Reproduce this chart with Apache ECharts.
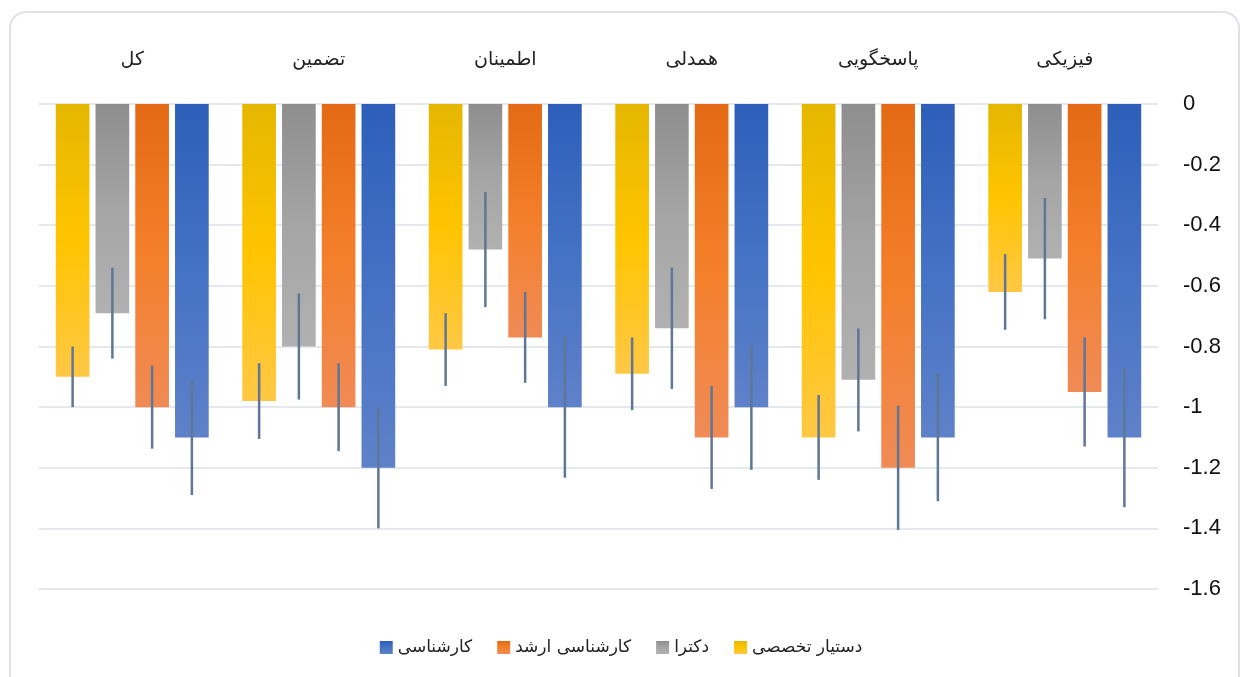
<!DOCTYPE html>
<html>
<head>
<meta charset="utf-8">
<script src="https://cdn.jsdelivr.net/npm/echarts@6/dist/echarts.min.js"></script>
<style>
	html, body { margin: 0; padding: 0; background: #ffffff; }
	#chart { width: 1242px; height: 677px; }
</style>
</head>
<body>
<div id="chart"></div>
<script>
// categories, read right to left like the original
var categories = ['فیزیکی', 'پاسخگویی', 'همدلی', 'اطمینان', 'تضمین', 'کل'];

// mean values per group
var dastyarValues = [-0.62, -1.1, -0.89, -0.81, -0.98, -0.9];
var doctoraValues = [-0.51, -0.91, -0.74, -0.48, -0.8, -0.69];
var arshadValues = [-0.95, -1.2, -1.1, -0.77, -1.0, -1.0];
var karshenasiValues = [-1.1, -1.1, -1.0, -1.0, -1.2, -1.1];

// error bar half lengths
var dastyarErrors = [0.125, 0.14, 0.12, 0.12, 0.125, 0.1];
var doctoraErrors = [0.2, 0.17, 0.2, 0.19, 0.175, 0.15];
var arshadErrors = [0.18, 0.205, 0.17, 0.15, 0.145, 0.137];
var karshenasiErrors = [0.23, 0.21, 0.207, 0.233, 0.2, 0.19];

var seriesNames = ['دستیار تخصصی', 'دکترا', 'کارشناسی ارشد', 'کارشناسی'];
var legendOrder = ['کارشناسی', 'کارشناسی ارشد', 'دکترا', 'دستیار تخصصی'];
var yTicks = { min: -1.6, max: 0, interval: 0.2 };

var faFont = 'DejaVu Sans, sans-serif';
var catGap = 0.18, barGap = 0.18, barCount = 4;

function gradient(top, mid, bottom) {
	return new echarts.graphic.LinearGradient(0, 0, 0, 1, [
		{ offset: 0, color: top },
		{ offset: 0.5, color: mid },
		{ offset: 1, color: bottom }
	]);
}

var fills = [
	gradient('#E5B700', '#FFC400', '#FFC845'),
	gradient('#8E8E8E', '#A5A5A5', '#B1B1B1'),
	gradient('#E46A15', '#F47F2A', '#F08B56'),
	gradient('#2D5FBA', '#4472C4', '#5F81C9')
];
var allValues = [dastyarValues, doctoraValues, arshadValues, karshenasiValues];
var allErrors = [dastyarErrors, doctoraErrors, arshadErrors, karshenasiErrors];

/** draws a vertical error line at the centre of bar pIndex in its group */
function errorRenderer(pIndex) {
	return function (params, api) {
		var band = api.size([1, 0])[0];
		var total = band * (1 - catGap);
		var w = total / (barCount + (barCount - 1) * barGap);
		var offset = -total / 2 + pIndex * w * (1 + barGap) + w / 2;
		var top = api.coord([api.value(0), api.value(1)]);
		var bottom = api.coord([api.value(0), api.value(2)]);
		return {
			type: 'line',
			shape: { x1: top[0] + offset, y1: top[1], x2: bottom[0] + offset, y2: bottom[1] },
			style: { stroke: '#5E7797', lineWidth: 2.5 }
		};
	};
}

var series = [];
for (var i = 0; i < barCount; i++) {
	series.push({
		name: seriesNames[i],
		type: 'bar',
		data: allValues[i],
		barGap: (barGap * 100) + '%',
		barCategoryGap: (catGap * 100) + '%',
		itemStyle: { color: fills[i] },
		emphasis: { disabled: true }
	});
}
for (var j = 0; j < barCount; j++) {
	var errData = [];
	for (var k = 0; k < categories.length; k++) {
		errData.push([k, allValues[j][k] + allErrors[j][k], allValues[j][k] - allErrors[j][k]]);
	}
	series.push({
		type: 'custom',
		renderItem: errorRenderer(j),
		data: errData,
		z: 5,
		silent: true
	});
}

var chart = echarts.init(document.getElementById('chart'));
chart.setOption({
	animation: false,
	backgroundColor: '#ffffff',
	graphic: [{
		type: 'rect',
		shape: { x: 10, y: 12, width: 1229, height: 680, r: 16 },
		style: { fill: 'none', stroke: '#DEE2E8', lineWidth: 2 },
		silent: true
	}],
	grid: { left: 39, right: 84, top: 104, bottom: 88 },
	legend: {
		data: legendOrder,
		top: 634,
		left: 'center',
		icon: 'rect',
		itemWidth: 13,
		itemHeight: 13,
		itemGap: 25,
		itemStyle: { borderWidth: 0 },
		textStyle: { fontFamily: faFont, fontSize: 17, color: '#222222' }
	},
	xAxis: {
		type: 'category',
		data: categories,
		position: 'top',
		inverse: true,
		axisLine: { show: false },
		axisTick: { show: false },
		axisLabel: { margin: 34, fontFamily: faFont, fontSize: 19, color: '#222222' }
	},
	yAxis: {
		type: 'value',
		position: 'right',
		min: yTicks.min,
		max: yTicks.max,
		interval: yTicks.interval,
		axisLine: { show: false },
		axisTick: { show: false },
		splitLine: { lineStyle: { color: '#DCE0E6', width: 1.5 } },
		axisLabel: { margin: 25, fontFamily: 'Liberation Sans, sans-serif', fontSize: 22, color: '#111111' }
	},
	series: series
});
</script>
</body>
</html>
